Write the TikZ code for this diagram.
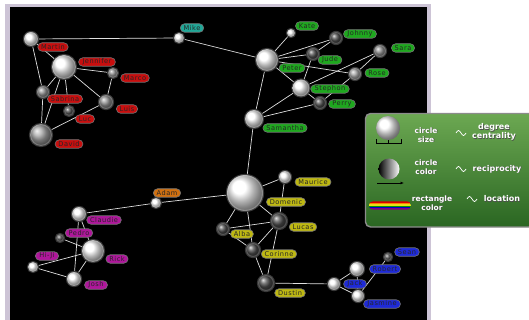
\documentclass[tikz,border=0pt]{standalone}
\usepackage{fontspec}
\setmainfont{DejaVu Sans}
\newfontfamily\labfont[LetterSpace=8]{DejaVu Sans}
\newfontfamily\legfont{DejaVu Sans}
\usetikzlibrary{shapes.misc,arrows.meta}
\pgfdeclarelayer{back}
\pgfdeclarelayer{edges}
\pgfsetlayers{back,edges,main}

\definecolor{frameC}{RGB}{205,196,214}
\definecolor{labRed}{RGB}{200,14,14}
\definecolor{labTeal}{RGB}{32,168,152}
\definecolor{labGreen}{RGB}{30,168,30}
\definecolor{labOrange}{RGB}{208,112,16}
\definecolor{labPurple}{RGB}{175,22,155}
\definecolor{labYellow}{RGB}{190,184,18}
\definecolor{labBlue}{RGB}{30,42,215}
\definecolor{legTop}{RGB}{108,168,82}
\definecolor{legBot}{RGB}{42,102,34}
\definecolor{legEdge}{RGB}{140,140,140}

\tikzset{
  sph/.style 2 args={circle, inner sep=0pt, minimum size=#1, ball color=#2,
    draw=white, draw opacity=0.22, line width=2.2pt},
  lab/.style={rounded rectangle, fill=#1, draw=black!55, line width=0.6pt,
    inner xsep=2.5pt, inner ysep=0pt, minimum height=8.5pt,
    font={\labfont\fontsize{6.6}{7}\selectfont}, text=black!85},
  edge/.style={white!88!black, line width=0.7pt},
  legtxt/.style={font={\legfont\bfseries\fontsize{#1}{9}\selectfont},
    text=white, align=center, inner sep=0pt},
  legshadow/.style={font={\legfont\bfseries\fontsize{#1}{9}\selectfont},
    text=black!70, align=center, inner sep=0pt},
}
\colorlet{bright}{white}
\colorlet{midgray}{gray!85}
\colorlet{darkgray}{gray!60!black}

% legend text with a soft drop shadow
\newcommand\legline[4]{%
  \node[legshadow=#4] at ([shift={(0.6,0.6)}]#2) {#3};
  \node[legtxt=#4] (#1) at (#2) {#3};}

\begin{document}
\begin{tikzpicture}[x=1pt,y=-1pt]
\useasboundingbox (0,0) rectangle (529,320);

% frame and canvas
\begin{pgfonlayer}{back}
  \fill[white] (0,0) rectangle (529,320);
  \fill[frameC] (5,4) rectangle (431,322);
  \fill[black] (9.5,7) rectangle (426.5,322);
\end{pgfonlayer}

% ---- red group
\node[sph={14pt}{bright}]   (martin)   at (31,39)  {};
\node[sph={24pt}{bright}]   (jennifer) at (64,67)  {};
\node[sph={10pt}{midgray}]  (marco)    at (113,73) {};
\node[sph={12pt}{midgray}]  (sabrina)  at (43,92)  {};
\node[sph={14pt}{midgray}]  (luis)     at (106,102){};
\node[sph={10pt}{darkgray}] (luc)      at (69,111) {};
\node[sph={22pt}{gray!70}]  (david)    at (41,135) {};
\node[sph={10pt}{bright}]   (mike)     at (179,38) {};

\node[lab=labRed]  (martin-l)   at (53,47)  {Martin};
\node[lab=labRed]  (jennifer-l) at (97,62)  {Jennifer};
\node[lab=labRed]  (marco-l)    at (135,78) {Marco};
\node[lab=labRed]  (sabrina-l)  at (65,99)  {Sabrina};
\node[lab=labRed]  (luis-l)     at (127,109){Luis};
\node[lab=labRed]  (luc-l)      at (85,119) {Luc};
\node[lab=labRed]  (david-l)    at (69,144) {David};
\node[lab=labTeal] (mike-l)     at (192,28) {Mike};

% ---- green group
\node[sph={8pt}{bright}]    (kate)     at (291,33) {};
\node[sph={12pt}{darkgray}] (johnny)   at (336,38) {};
\node[sph={12pt}{darkgray}] (jude)     at (313,54) {};
\node[sph={22pt}{bright}]   (peter)    at (267,60) {};
\node[sph={12pt}{midgray}]  (sara)     at (380,51) {};
\node[sph={12pt}{gray!70}]  (rose)     at (355,74) {};
\node[sph={17pt}{bright}]   (stephon)  at (301,88) {};
\node[sph={12pt}{darkgray}] (perry)    at (320,103){};
\node[sph={18pt}{bright}]   (samantha) at (254,119){};

\node[lab=labGreen] (kate-l)     at (307,26) {Kate};
\node[lab=labGreen] (johnny-l)   at (360,34) {Johnny};
\node[lab=labGreen] (jude-l)     at (330,60) {Jude};
\node[lab=labGreen] (peter-l)    at (292,68) {Peter};
\node[lab=labGreen] (sara-l)     at (403,48) {Sara};
\node[lab=labGreen] (rose-l)     at (377,73) {Rose};
\node[lab=labGreen] (stephon-l)  at (330,89) {Stephon};
\node[lab=labGreen] (perry-l)    at (342,104){Perry};
\node[lab=labGreen] (samantha-l) at (285,128){Samantha};

% ---- purple group
\node[sph={10pt}{bright}]   (adam)    at (156,203){};
\node[sph={14pt}{bright}]   (claudie) at (79,214) {};
\node[sph={8pt}{darkgray}]  (pedro)   at (60,238) {};
\node[sph={22pt}{bright}]   (rick)    at (93,251) {};
\node[sph={10pt}{bright}]   (hiji)    at (33,267) {};
\node[sph={14pt}{bright}]   (josh)    at (74,279) {};

\node[lab=labOrange] (adam-l)    at (167,193){Adam};
\node[lab=labPurple] (claudie-l) at (104,220){Claudie};
\node[lab=labPurple] (pedro-l)   at (79,233) {Pedro};
\node[lab=labPurple] (rick-l)    at (117,259){Rick};
\node[lab=labPurple] (hiji-l)    at (47,256) {Hi-Ji};
\node[lab=labPurple] (josh-l)    at (96,285) {Josh};

% ---- yellow group
\node[sph={36pt}{bright}]   (domenic) at (245,193){};
\node[sph={12pt}{bright}]   (maurice) at (285,177){};
\node[sph={16pt}{darkgray}] (lucas)   at (279,221){};
\node[sph={12pt}{darkgray}] (alba)    at (223,229){};
\node[sph={14pt}{darkgray}] (corinne) at (253,250){};
\node[sph={16pt}{darkgray}] (dustin)  at (266,283){};

\node[lab=labYellow] (maurice-l) at (313,182){Maurice};
\node[lab=labYellow] (domenic-l) at (286,202){Domenic};
\node[lab=labYellow] (lucas-l)   at (303,227){Lucas};
\node[lab=labYellow] (alba-l)    at (242,234){Alba};
\node[lab=labYellow] (corinne-l) at (279,254){Corinne};
\node[lab=labYellow] (dustin-l)  at (290,293){Dustin};

% ---- blue group
\node[sph={12pt}{bright}]   (jack)    at (334,284){};
\node[sph={14pt}{bright}]   (robert)  at (357,269){};
\node[sph={8pt}{darkgray}]  (sean)    at (388,257){};
\node[sph={12pt}{bright}]   (jasmine) at (358,296){};

\node[lab=labBlue] (jack-l)    at (355,284){Jack};
\node[lab=labBlue] (robert-l)  at (385,269){Robert};
\node[lab=labBlue] (sean-l)    at (407,252){Sean};
\node[lab=labBlue] (jasmine-l) at (382,304){Jasmine};

% ---- links
\begin{pgfonlayer}{edges}
\foreach \a/\b in {martin/mike, martin/jennifer, martin/sabrina,
  jennifer/marco, jennifer/sabrina, jennifer/david, jennifer/luc,
  jennifer/luis, marco/luis, sabrina/david, david/luis, mike/peter,
  peter/kate, peter/johnny, peter/jude, peter/rose, peter/stephon,
  peter/samantha, jude/johnny, jude/stephon, stephon/sara, stephon/perry,
  stephon/samantha, samantha/perry, sara/rose, rose/perry,
  samantha/domenic, domenic/adam, adam/claudie, claudie/rick,
  claudie/josh, pedro/rick, hiji/rick, hiji/josh, rick/josh,
  domenic/maurice, domenic/alba, domenic/lucas, domenic/corinne,
  maurice/lucas, alba/lucas, alba/corinne, corinne/lucas,
  corinne/dustin, lucas/dustin, dustin/jack, jack/robert,
  jack/jasmine, robert/jasmine, jasmine/sean}
  \draw[edge] (\a) -- (\b);
\end{pgfonlayer}

% ---- legend
\shade[top color=legTop, bottom color=legBot, draw=legEdge, line width=1.4pt,
  rounded corners=5pt] (365.5,113.5) rectangle (534,227);

\node[circle, inner sep=0pt, minimum size=24pt, ball color=white]
  (legsize) at (388,128) {};
\draw[black, line width=0.7pt] (376,139) -- (376,143) -- (401,143) -- (401,139);
\draw[black, line width=0.7pt] (388.5,143) -- (388.5,140.5);

\shade[left color=black, right color=white] (389,169) circle (10.5);
\draw[black, line width=0.7pt, -{Latex[length=3.5pt,width=3pt]}] (377,183) -- (404,183);

\begin{scope}
  \clip[rounded corners=3.5pt] (369,201.5) rectangle (411,209.5);
  \fill[red!85!black]   (369,201.5) rectangle (411,203);
  \fill[orange]         (369,203)   rectangle (411,204.3);
  \fill[yellow!90!black](369,204.3) rectangle (411,205.5);
  \fill[green!60!black] (369,205.5) rectangle (411,206.7);
  \fill[blue!80!black]  (369,206.7) rectangle (411,208);
  \fill[violet]         (369,208)   rectangle (411,209.5);
\end{scope}

\legline{t-csize}{426,135}{circle\\size}{7.5}
\legline{t-ccolor}{426,167}{circle\\color}{7.5}
\legline{t-rcolor}{432,203}{rectangle\\color}{7.5}
\legline{t-degree}{494,132}{degree\\centrality}{8}
\legline{t-recip}{497,169}{reciprocity}{8}
\legline{t-loc}{502,199}{location}{8}

\foreach \wx/\wy in {456/133, 456/169, 467/199}
  \draw[white, line width=0.7pt] (\wx,\wy) sin ++(2.5,-2.5) cos ++(2.5,2.5)
    sin ++(2.5,2.5) cos ++(2.5,-2.5);
\end{tikzpicture}
\end{document}
